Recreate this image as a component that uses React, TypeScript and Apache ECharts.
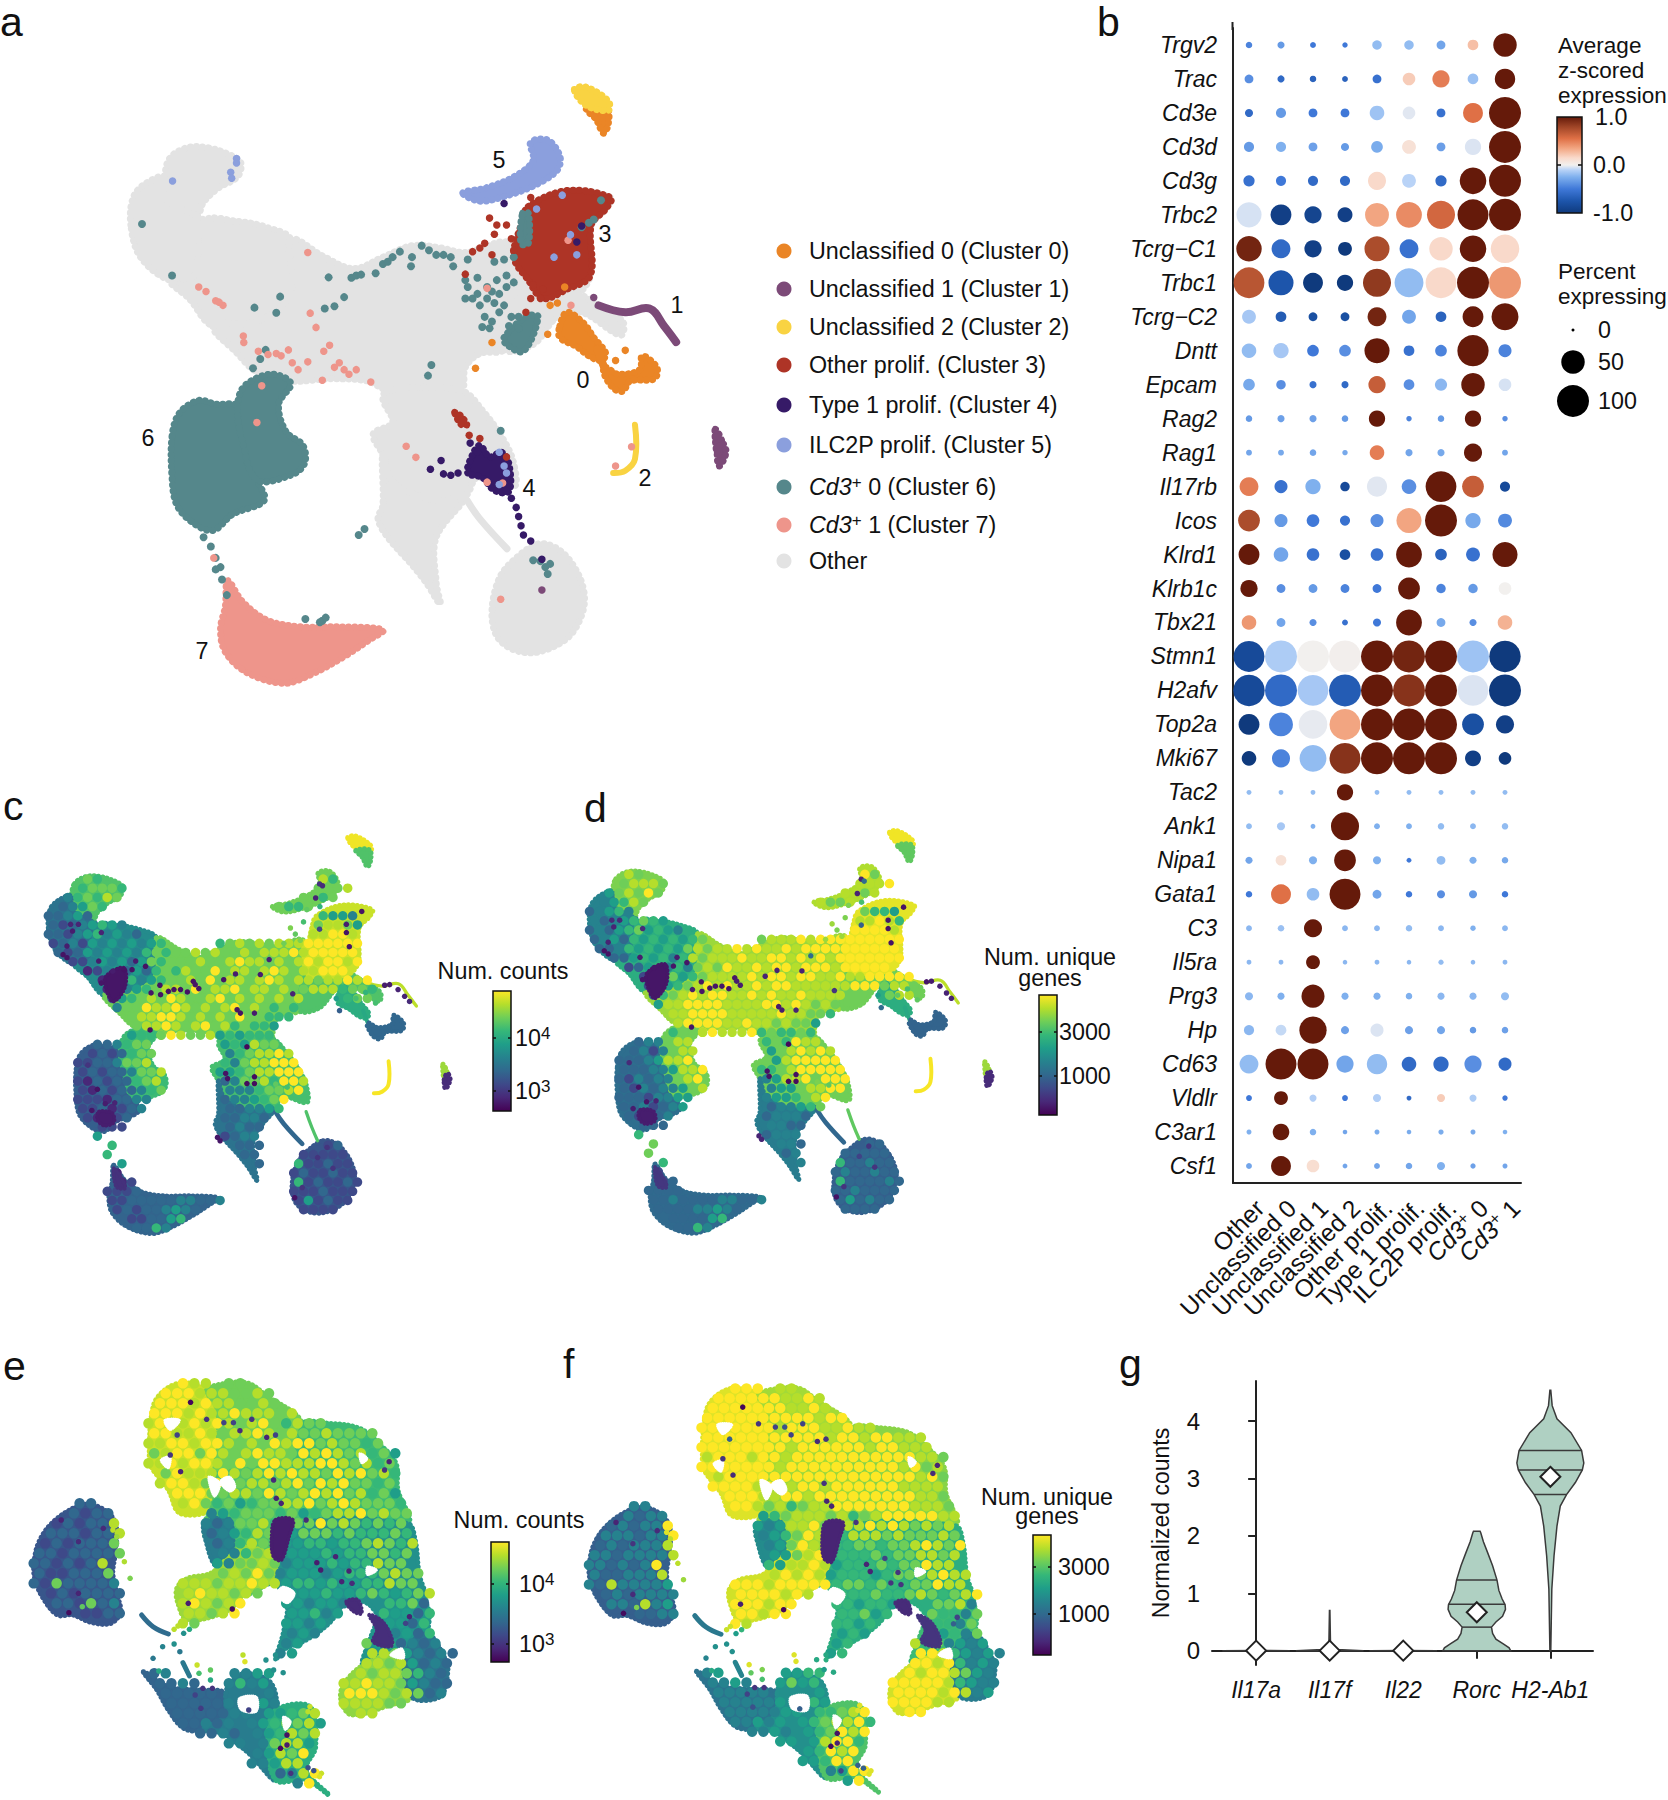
import React, { useEffect, useRef } from "react";
import * as echarts from "echarts";

const FONT = '"Liberation Sans", Arial, sans-serif';
const BLACK = "#111111";

// ---------- panel b data ----------
const genes = ["Trgv2","Trac","Cd3e","Cd3d","Cd3g","Trbc2","Tcrg\u2212C1","Trbc1","Tcrg\u2212C2","Dntt","Epcam","Rag2","Rag1","Il17rb","Icos","Klrd1","Klrb1c","Tbx21","Stmn1","H2afv","Top2a","Mki67","Tac2","Ank1","Nipa1","Gata1","C3","Il5ra","Prg3","Hp","Cd63","Vldlr","C3ar1","Csf1"];
const groups = ["Other","Unclassified 0","Unclassified 1","Unclassified 2","Other prolif.","Type 1 prolif.","ILC2P prolif.","Cd3+ 0","Cd3+ 1"];
const percentExpressing = [
[1.5,2,1,.7,5,5,4,7,50],[4,2,1.5,1,4,11,24,7,36],[3,6,4,4,16,11,4,34,100],[6,6,4,3,9,14,4,21,100],[8,6,6,6,27,14,8,66,100],
[58,38,24,17,52,62,75,93,100],[60,30,24,14,58,30,50,66,78],[92,58,34,21,75,80,92,100,100],[14,7,4,4,30,14,7,38,68],[16,18,9,9,58,7,9,95,12],
[9,5,2,2,24,7,10,50,11],[1.5,2,2,1.5,21,.7,1.5,21,.7],[1,1,1.5,.7,16,2,2,27,1],[30,12,18,5,35,16,92,42,6],[42,12,11,6,12,58,100,18,14],
[38,16,11,7,11,62,9,14,58],[24,4,4,4,4,42,5,5,11],[16,4,2,1,3,62,4,2,16],[93,100,100,100,100,100,100,100,96],[96,100,92,100,100,100,100,92,100],
[38,52,78,93,100,100,100,42,27],[16,27,68,93,100,100,100,20,11],[.4,.4,.4,21,.4,.4,.4,.4,.4],[1,3,.4,75,1,1,1.5,1,1.5],[2,7,3,42,3,.4,4,2,1.5],
[1.5,34,11,93,4,1.5,3,3,1.5],[1,1.5,27,1,1,1.5,1,.7,1],[.4,.4,14,.3,.4,.3,.6,.3,.4],[3,2,48,2,2,1.5,2,2,3],[6,7,70,3,12,3,3,1.5,1.5],
[30,93,93,24,36,16,18,24,12],[1,14,2,1,3,.4,3,2,.7],[.5,22,1.5,.3,.5,.3,.6,.5,.3],[1,34,11,.4,1,1.5,3,.6,.5]];
const zScores = [
[-.45,-.35,-.5,-.5,-.2,-.2,-.3,.25,1],[-.4,-.6,-.65,-.65,-.55,.2,.5,-.18,1],[-.6,-.35,-.5,-.5,-.17,-.03,-.55,.55,1],[-.35,-.25,-.32,-.35,-.27,.1,-.33,-.04,1],[-.55,-.5,-.6,-.6,.15,-.1,-.6,1,1],
[-.05,-.95,-.9,-.95,.35,.45,.6,1,1],[.95,-.6,-.95,-1,.75,-.55,.15,1,.15],[.7,-.75,-1,-1,.85,-.2,.15,1,.4],[-.15,-.7,-.8,-.8,.95,-.3,-.65,1,1],[-.2,-.15,-.5,-.4,1,-.55,-.45,1,-.45],
[-.28,-.4,-.55,-.6,.65,-.4,-.22,1,-.05],[-.35,-.32,-.32,-.35,1,-.45,-.35,1,-.4],[-.3,-.28,-.3,-.28,.5,-.3,-.28,1,-.3],[.5,-.55,-.25,-.85,-.03,-.4,1,.65,-.85],[.75,-.35,-.5,-.55,-.4,.35,1,-.28,-.42],
[1,-.3,-.55,-.8,-.55,1,-.65,-.55,1],[1,-.4,-.35,-.45,-.5,1,-.45,-.35,0],[.4,-.3,-.4,-.55,-.5,1,-.28,-.4,.3],[-.85,-.13,0,.01,1,.95,1,-.17,-1],[-.85,-.6,-.15,-.7,1,.88,1,-.04,-1],
[-1,-.45,-.02,.35,1,1,1,-.8,-.95],[-1,-.45,-.2,.88,1,1,1,-.95,-1],[-.2,-.2,-.2,1,-.2,-.2,-.2,-.2,-.2],[-.2,-.15,-.25,1,-.25,-.25,-.2,-.22,-.2],[-.3,.1,-.25,1,-.25,-.5,-.2,-.25,-.28],
[-.5,.55,-.2,1,-.3,-.5,-.4,-.35,-.5],[-.22,-.18,1,-.22,-.22,-.2,-.22,-.25,-.22],[-.22,-.22,1,-.22,-.22,-.22,-.2,-.22,-.22],[-.22,-.25,1,-.25,-.25,-.25,-.22,-.22,-.2],[-.22,-.08,1,-.32,-.04,-.32,-.3,-.35,-.32],
[-.2,1,1,-.3,-.2,-.6,-.6,-.4,-.6],[-.5,1,-.12,-.5,-.12,-.6,.2,-.13,-.5],[-.25,1,-.25,-.3,-.27,-.27,-.27,-.28,-.25],[-.3,1,.12,-.3,-.3,-.3,-.25,-.32,-.3]];
const zStops: [number,string][] = [[-1,"#0f3a7d"],[-.75,"#1d55ab"],[-.5,"#3f78d8"],[-.25,"#7fb0ee"],[-.1,"#b9d3f7"],[0,"#f2f0ee"],[.15,"#f9d9ca"],[.35,"#f2a581"],[.55,"#df7046"],[.8,"#9e4426"],[1,"#651a0a"]];
const sizeLegend = [0,50,100];

// ---------- panel g data ----------
const violinGenes = ["Il17a","Il17f","Il22","Rorc","H2-Ab1"];
const violinMeans = [0,0,0,.67,3.03];
const violinProfiles = [
[[0,.46],[.002,.006]],
[[0,.46],[.02,.1],[.05,.012],[.7,.003]],
[[0,.46],[.002,.006]],
[[0,.46],[.05,.44],[.12,.36],[.2,.26],[.3,.215],[.41,.2],[.5,.26],[.6,.35],[.72,.39],[.8,.385],[.9,.345],[1.05,.3],[1.23,.275],[1.48,.215],[1.7,.15],[1.9,.09],[2.05,.055],[2.08,.045]],
[[0,.006],[1.07,.02],[1.65,.05],[2.17,.09],[2.52,.135],[2.72,.22],[2.93,.34],[3.15,.435],[3.27,.455],[3.49,.425],[3.8,.28],[4.04,.09],[4.27,.025],[4.54,.006]]];
const violinQuartiles = [[],[],[],[[.41,.2],[.81,.385],[1.23,.275]],[[2.72,.22],[3.15,.435],[3.49,.425]]];

// ---------- legend of panel a ----------
const clusterLabels = ["Unclassified 0 (Cluster 0)","Unclassified 1 (Cluster 1)","Unclassified 2 (Cluster 2)","Other prolif. (Cluster 3)","Type 1 prolif. (Cluster 4)","ILC2P prolif. (Cluster 5)","{i|Cd3}{s|+} 0 (Cluster 6)","{i|Cd3}{s|+} 1 (Cluster 7)","Other"];
const clusterColors = ["#EA8526","#7C4A78","#F9D342","#AE3426","#361A67","#8B9FDD","#55878B","#EE958B","#E3E3E3"];

// ---------- embedding of panels a, c, d: outlines ----------
const tailTop = [[350,345],[385,322],[430,322],[480,340],[497,355],[490,385],[450,410],[420,440],[405,470],[340,430],[340,385]];
const head = [[270,490],[275,430],[300,400],[340,385],[340,430],[405,470],[420,482],[400,600],[350,610],[290,560]];
const midLeft = [[420,482],[490,482],[550,495],[600,522],[600,640],[530,700],[440,710],[390,650],[350,610],[400,600]];
const centre = [[600,522],[670,560],[730,585],[790,560],[850,535],[910,540],[960,550],[1050,530],[1060,640],[1040,760],[990,770],[960,800],[950,850],[800,850],[760,830],[680,825],[600,830],[530,810],[490,770],[440,710],[530,700],[600,640]];
const upperRight = [[1060,560],[1075,490],[1090,450],[1170,415],[1260,430],[1250,455],[1220,490],[1218,600],[1190,640],[1120,650],[1060,640],[1050,530]];
const rightBranch = [[1060,640],[1120,650],[1190,640],[1240,670],[1285,700],[1280,730],[1200,680],[1150,690],[1100,750],[1040,760]];
const lowerArm = [[800,850],[950,850],[1000,900],[1040,960],[1060,1010],[1060,1060],[985,1040],[960,1080],[900,1090],[810,1050],[790,990],[770,945],[810,920],[790,870]];
const lowerLobe = [[790,990],[810,1050],[900,1090],[960,1080],[900,1170],[900,1270],[908,1315],[880,1270],[850,1230],[800,1170],[780,1130],[790,1100]];
const circleBlob = [[1110,1185],[1150,1195],[1185,1235],[1205,1290],[1200,1340],[1170,1390],[1110,1420],[1060,1415],[1025,1385],[1015,1330],[1030,1260],[1060,1220]];
const strandThin = [[964,1090],[990,1130],[1046,1195]];
const strandGreen = [[1058,1090],[1075,1140],[1093,1185]];
const cluster6Left = [[355,950],[370,900],[410,872],[445,880],[490,885],[500,960],[530,1045],[545,1090],[480,1120],[440,1155],[400,1140],[365,1100],[355,1040]];
const cluster6Right = [[490,885],[505,840],[560,815],[600,835],[575,880],[590,940],[625,970],[628,1010],[600,1035],[530,1045],[500,960]];
const cluster7 = [[470,1265],[500,1310],[550,1350],[620,1365],[700,1365],[790,1372],[760,1395],[710,1430],[640,1470],[585,1488],[510,1465],[465,1420],[455,1370],[465,1320]];
const cluster3 = [[1090,450],[1170,415],[1260,430],[1250,455],[1220,490],[1218,600],[1170,630],[1120,650],[1090,610],[1060,560],[1075,490]];
const cluster5 = [[955,420],[1000,410],[1060,385],[1100,350],[1095,310],[1130,305],[1155,340],[1150,370],[1110,400],[1050,425],[990,438]];
const cluster0Upper = [[1155,710],[1170,680],[1205,705],[1225,735],[1250,770],[1240,785],[1215,775],[1190,755],[1155,735]];
const cluster0Foot = [[1250,800],[1275,815],[1320,805],[1325,775],[1355,800],[1350,825],[1300,830],[1285,852],[1265,845],[1245,810]];
const cluster0Bridge = [[1232,760],[1250,810]];
const cluster1Line = [[1235,665],[1290,680],[1340,672],[1370,710],[1395,745]];
const topYellow = [[1185,195],[1210,190],[1255,220],[1255,240],[1210,230]];
const topOrange = [[1210,237],[1252,235],[1255,270],[1245,290],[1230,260]];
const cluster2Line = [[1310,925],[1310,1000],[1290,1025],[1265,1030]];
const islandTop = [[1476,935],[1490,965],[1480,985],[1476,960]];
const islandBottom = [[1480,985],[1490,965],[1498,985],[1484,1015]];
const cluster4 = [[965,1030],[975,990],[990,970],[1010,995],[1035,985],[1050,1010],[1050,1070],[1020,1068],[995,1040]];
const tealFoot = [[1040,735],[1085,690],[1110,690],[1080,765],[1045,750]];
const tealStrip = [[1078,465],[1090,465],[1090,530],[1075,530]];
const redStrand = [[938,898],[950,905],[963,925],[952,925]];
const darkPatchC1 = [[445,650],[500,620],[505,680],[470,730],[450,700]];
const darkPatchC2 = [[425,1090],[465,1095],[470,1125],[440,1135],[420,1115]];
const foot7Tip = [[470,1275],[495,1310],[505,1340],[478,1335]];

// ---------- embedding of panels a, c, d: isolated cells of panel a ----------
const tealCells = [[725,605],[735,600],[745,598],[775,595],[790,575],[800,570],[810,560],[825,548],[850,560],[848,580],[870,535],[885,545],[900,555],[915,555],[930,560],[935,580],[965,565],[1020,570],[1040,565],[1060,560],[960,610],[965,625],[985,605],[1005,625],[1025,610],[1045,600],[1060,615],[1045,625],[975,650],[990,665],[1005,650],[1020,660],[1040,665],[1000,690],[1015,700],[1030,680],[1055,690],[1070,690],[1050,710],[1070,715],[995,712],[1010,715],[960,650],[1030,640],[1015,635],[985,640],[1200,495],[1215,485],[1225,478],[1240,436],[293,488],[355,600],[678,604],[578,646],[525,670],[570,681],[670,672],[690,667],[710,647],[890,795],[883,818],[1033,938],[522,802],[537,782],[548,762],[740,1165],[752,1152],[420,1170],[435,1190],[445,1215],[455,1235],[445,1240],[458,1262],[468,1296],[1100,1220],[1115,1222],[1135,1228],[1125,1235],[1130,1250],[630,1348],[665,1352],[672,1345],[660,1355]];
const redCells = [[1010,475],[1025,490],[1000,530],[990,540],[975,548],[1020,510],[1045,490],[1055,520],[1015,555],[1060,545],[1100,620],[1095,650],[1085,680],[1115,650],[1120,630],[968,948],[990,955],[1045,995],[960,597],[1095,430]];
const salmonCells = [[635,550],[410,625],[425,635],[445,655],[460,665],[452,658],[502,732],[503,746],[640,682],[652,713],[680,752],[668,765],[533,765],[553,772],[570,770],[580,775],[595,762],[603,790],[615,805],[635,788],[665,828],[690,800],[700,790],[710,805],[720,815],[735,805],[765,832],[540,840],[530,920],[838,972],[858,996],[441,1215],[1005,628],[1005,1050],[1037,1052],[1033,1305],[1172,523],[1178,665],[1270,1015],[1303,973]];
const blueCells = [[488,345],[488,355],[476,375],[478,388],[356,394],[1177,511],[1190,555],[1143,560],[1107,455],[1160,425],[1030,985],[1040,1015],[1045,1030],[1030,1055]];
const orangeCells = [[1135,665],[1150,660],[1165,625],[1130,728],[1015,746],[981,802],[1290,763],[1270,785]];
const purpleCells = [[1045,1070],[1055,1085],[1065,1105],[1070,1125],[1075,1145],[1080,1165],[1095,1178],[888,1022],[910,1003],[915,1032],[930,1035],[945,1030],[970,965],[985,985],[1190,527],[1200,492],[1040,443],[1118,1218]];
const plumCells = [[1118,1285],[1225,648]];

// Colour-bar level (digit 0-9) read along rows of the embedding: [row y, first column, digits]
const rasterCountsA: [number,number,string][] = [
[330,4,"76"],[360,3,"67776"],[390,2,"467687"],[420,1,"34576"],[450,0,"33453"],[450,28,"6554"],[480,0,"32345654"],[480,27,"78875"],[510,0,"3324564543"],[510,27,"88998"],
[540,0,"234254545456"],[540,17,"678787888999999"],[570,1,"3235454546767787877878889899999"],[600,2,"224545357677787789887878989989"],[630,4,"124535367687797887898788999"],[660,5,"1246456778797887898788788989"],[690,6,"1245678879788978878778886"],[690,31,"776"],
[720,6,"25678798778978787878"],[720,30,"677"],[750,7,"4779889878789787676"],[780,8,"78899878787977666"],[810,9,"788987897867665"],[840,11,"898778565666"],[870,18,"565877"],[900,18,"4678898"],[930,18,"64788999"],[960,17,"556788999"],[990,18,"347786998"],[1020,18,"44467789"],[1050,18,"3445679"],[1080,18,"334456"],[1110,18,"33443"],[1140,18,"3433"],[1170,18,"2344"],[1200,19,"333"],[1230,20,"33"],[1260,21,"3"],
[840,8,"5667"],[870,5,"334677"],[900,4,"2323677"],[930,3,"22334778"],[960,3,"232334778"],[990,3,"213233678"],[1020,3,"213233467"],[1050,3,"22213344"],[1080,3,"2231234"],[1110,4,"21123"],[1140,5,"222"],
[1170,5,"5"],[1200,6,"6"],[1230,6,"6"],[1260,7,"5"],[1290,7,"1"],[1320,7,"12"],[1350,6,"2223"],[1380,6,"223333344334"],[1410,7,"232334543"],[1440,8,"223356"],[1470,9,"3364"],
[1200,28,"23"],[1230,26,"22222"],[1260,25,"622322"],[1290,25,"2322322"],[1320,25,"6232232"],[1350,25,"2223222"],[1380,25,"252322"],[1410,26,"2222"],
[330,28,"86"],[360,27,"7778"],[390,26,"7767"],[420,23,"7667"]];
const rasterGenesA: [number,number,string][] = [
[330,4,"87"],[360,3,"78887"],[390,2,"578797"],[420,1,"45687"],[450,0,"34564"],[450,28,"7665"],[480,0,"43456765"],[480,27,"88986"],[510,0,"3435675654"],[510,27,"99998"],
[540,0,"345365656567"],[540,17,"788898999999999"],[570,1,"3346565657878898988989999999999"],[600,2,"335656468788898899898989999999"],[630,4,"235646478798898998999899999"],[660,5,"2357567888898998998898899999"],[690,6,"2356789898898998888889997"],[690,31,"887"],
[720,6,"36789899889898898888"],[720,30,"788"],[750,7,"5889999888899898787"],[780,8,"88999988888988776"],[810,9,"899998898878775"],[840,11,"998889676676"],[870,18,"676988"],[900,18,"5789898"],[930,18,"75899999"],[960,17,"667899999"],[990,18,"458897999"],[1020,18,"45578899"],[1050,18,"4556789"],[1080,18,"344567"],[1110,18,"34443"],[1140,18,"4433"],[1170,18,"3444"],[1200,19,"443"],[1230,20,"34"],[1260,21,"4"],
[840,8,"6778"],[870,5,"344788"],[900,4,"3424788"],[930,3,"33345889"],[960,3,"333445889"],[990,3,"324344789"],[1020,3,"324344578"],[1050,3,"33324455"],[1080,3,"3342345"],[1110,4,"32234"],[1140,5,"333"],
[1170,5,"6"],[1200,6,"7"],[1230,6,"7"],[1260,7,"6"],[1290,7,"2"],[1320,7,"23"],[1350,6,"3333"],[1380,6,"334333344334"],[1410,7,"333344543"],[1440,8,"333356"],[1470,9,"3364"],
[1200,28,"33"],[1230,26,"33333"],[1260,25,"633433"],[1290,25,"3433433"],[1320,25,"6333343"],[1350,25,"3343333"],[1380,25,"353433"],[1410,26,"3333"],
[330,28,"97"],[360,27,"8889"],[390,26,"8878"],[420,23,"8778"]];

// x, y, num. counts (0-1 on the colour bar), num. genes (0-1): single cells that stand out
const outliersA = [
[315,577,.05,.05],[327,587,.05,.05],[338,478,.1,.12],[362,478,.1,.12],[344,500,.08,.1],[327,549,.08,.1],[432,505,.1,.12],[424,598,.08,.08],[467,631,.08,.06],[432,670,.06,.06],[502,626,.05,.06],[526,626,.05,.06],[567,615,.05,.06],[537,598,.08,.08],
[584,702,.06,.08],[611,677,.05,.06],[613,708,.05,.06],[637,697,.05,.06],[654,691,.05,.06],[674,691,.05,.06],[695,699,.05,.06],[713,664,.05,.06],[730,688,.06,.08],[719,675,.06,.08],[842,640,.08,.1],[918,642,.08,.1],[945,593,.1,.35],[806,659,.06,.1],[1017,705,.1,.15],[847,757,.06,.08],[857,768,.05,.08],[900,768,.08,.1],[581,823,.05,.06],[877,878,.02,.02],[812,965,.05,.05],[818,982,.05,.05],[877,998,.03,.03],[900,976,.03,.04],[900,998,.03,.03],
[1181,478,.08,.06],[1181,505,.05,.05],[1190,551,.06,.05],[1099,494,.2,.3],[1228,436,.05,.05],[1087,392,.1,.1],[1099,346,.15,.1],[1108,352,.12,.35],[1298,677,.08,.06],[1313,675,.08,.08],[1339,691,.1,.1],[1359,713,.1,.1],[1374,730,.12,.1],[391,938,.15,.12],[420,1017,.05,.05],[403,1086,.06,.08],[444,1064,.08,.06],[473,1061,.1,.1],[787,1174,.06,.1],[795,1185,.06,.1],[1023,1371,.05,.05],[1046,1338,.15,.15],[1093,1240,.15,.2],[1122,1207,.15,.15],[1140,1275,.15,.15],
[1010,490,.8,.85],[1025,510,.75,.8],[1050,470,.7,.8],[1060,430,.75,.8],[1100,420,.65,.7],[1040,530,.8,.85],[990,540,.78,.85],[1210,720,.7,.75],[1240,700,.65,.7],[1150,720,.55,.55],[1270,735,.7,.75],[1160,760,.3,.35],[965,1000,.75,.8],[1000,1010,.7,.75]];

// ---------- embedding of panels e, f: outlines ----------
const blobLeft = [[88,680],[100,610],[135,550],[190,505],[235,493],[285,520],[305,565],[300,650],[295,700],[305,760],[315,815],[290,850],[240,848],[190,825],[150,825],[110,770],[92,720]];
const topLeftB = [[390,360],[400,200],[430,150],[480,128],[540,150],[565,200],[570,320],[570,440],[550,510],[470,520],[440,450],[400,390]];
const topMidB = [[540,150],[590,130],[650,130],[700,170],[770,220],[790,255],[790,400],[570,400],[570,320],[565,200]];
const upperRightB = [[790,255],[860,250],[940,265],[990,310],[1035,370],[1040,450],[1065,550],[790,550]];
const centreB = [[570,400],[790,400],[790,550],[740,700],[700,730],[640,760],[590,640],[540,600],[535,550],[550,510],[570,440]];
const stripB = [[535,550],[600,540],[600,680],[565,680],[540,610]];
const lobeB = [[462,745],[490,715],[550,700],[590,660],[640,620],[720,660],[700,730],[640,760],[600,810],[490,840],[465,790]];
const midLowerB = [[790,550],[1065,550],[1085,600],[1095,700],[1110,790],[1000,830],[960,790],[910,780],[860,850],[800,900],[740,930],[720,960],[740,880],[750,790],[720,730],[700,730],[720,660]];
const armB = [[1000,830],[1110,790],[1115,880],[1060,940],[950,975],[960,920]];
const bottomYellowB = [[893,1090],[895,1040],[950,975],[1060,940],[1075,1070],[1020,1095],[920,1125]];
const bottomDarkB = [[1060,940],[1115,880],[1165,960],[1170,1000],[1150,1070],[1075,1070]];
const lowDarkB = [[375,995],[440,1040],[520,1050],[590,1060],[585,1130],[530,1170],[480,1165],[440,1110],[410,1050]];
const lowMidB = [[590,1060],[600,1030],[640,1000],[700,1020],[720,1060],[720,1110],[700,1180],[720,1320],[650,1240],[580,1180],[530,1170],[585,1130]];
const lowRightB = [[720,1110],[810,1100],[825,1220],[800,1290],[860,1365],[800,1320],[720,1320],[700,1180]];
const strandB1 = [[370,825],[400,860],[440,882]];
const strandB2 = [[478,968],[495,1008]];
const darkB1 = [[720,540],[765,540],[755,590],[735,660],[715,650],[710,590]];
const darkB2 = [[905,785],[935,780],[945,820],[925,815]];
const darkB3 = [[965,825],[1000,845],[1025,900],[1020,920],[975,905],[985,870]];
const holesB = [[[600,410],[615,440],[600,455],[575,425]],[[430,240],[470,240],[445,270]],[[420,360],[445,350],[440,385]],[[740,740],[770,760],[750,790],[725,760]],[[1020,945],[1050,925],[1055,955]],[[960,680],[985,690],[960,705]],[[625,1075],[670,1070],[670,1115],[630,1110]],[[545,410],[575,430],[560,470]],[[940,340],[960,355],[945,370]],[[740,1130],[760,1145],[745,1170]]];

const rasterCountsB: [number,number,string][] = [
[130,13,"988"],[130,17,"77"],[160,11,"9998887787"],[190,11,"99989887787"],[220,10,"9998988988878"],[250,10,"8998989878976877"],[280,10,"99889878898787787777"],[310,10,"889989987879899787767"],[340,10,"7899798789887989878675"],[370,10,"8898998797998889987867"],[400,11,"798889878989887989786"],[430,11,"899879878878979897767"],[460,12,"99977887987898978675"],[490,13,"89767567788978987776"],[520,15,"456777675678897877"],
[550,15,"434778657797876767"],[580,15,"345687657776766676"],[610,16,"346877556656678768"],[640,16,"44678755565667767"],[670,16,"54778745556566877"],[700,16,"787974555456667877"],[730,13,"888788988566565566877"],[760,13,"8988787"],[760,22,"5556556765678"],[790,13,"898789"],[790,22,"5545545"],[790,31,"6673"],[820,13,"88789"],[820,22,"55645"],[820,30,"65536"],[850,13,"87"],[850,22,"5545"],[850,31,"5536"],[880,22,"454"],[880,31,"4536"],[910,22,"45"],[910,29,"7563434"],[940,21,"45"],[940,29,"88754343"],
[970,29,"88785343"],[1000,10,"34"],[1000,17,"4455"],[1000,28,"87887643"],[1030,11,"3343"],[1030,17,"4645"],[1030,27,"8898875433"],[1060,11,"33333"],[1060,20,"4"],[1060,27,"999878734"],[1090,12,"333334"],[1090,19,"454"],[1090,27,"888877"],[1120,12,"3333344"],[1120,20,"55678"],[1120,28,"88"],[1150,13,"33434"],[1150,19,"4567785"],[1180,14,"3343"],[1180,19,"456878"],[1210,17,"44"],[1210,20,"47885"],[1240,19,"45879"],[1270,19,"44588"],[1300,21,"3489"],[1330,23,"49"],
[490,4,"33"],[520,3,"3233"],[550,2,"232338"],[580,1,"3332338"],[610,1,"2323337"],[640,0,"33233337"],[670,0,"3323238"],[700,0,"3223337"],[730,0,"32733334"],[760,1,"2323333"],[790,2,"332734"],[820,4,"2233"]];
const rasterGenesB: [number,number,string][] = [
[130,13,"999"],[130,17,"88"],[160,11,"9999998898"],[190,11,"99999998898"],[220,10,"9999999999899"],[250,10,"9999999899988988"],[280,10,"99999999999899899888"],[310,10,"999999998999999899888"],[340,10,"8999899899999999999887"],[370,10,"9999999899999999998978"],[400,11,"899999999999999999897"],[430,11,"999989989989999998888"],[460,12,"99988998999999999887"],[490,13,"99878678899999998887"],[520,15,"567888786789999988"],
[550,15,"545889768898987878"],[580,15,"456798768887877787"],[610,16,"457988667767789879"],[640,16,"55789866676778878"],[670,16,"65889856667677988"],[700,16,"898985666567778988"],[730,13,"999899999677676677988"],[760,13,"9999898"],[760,22,"6667667876789"],[790,13,"999899"],[790,22,"6656656"],[790,31,"7784"],[820,13,"99899"],[820,22,"66756"],[820,30,"76647"],[850,13,"98"],[850,22,"6656"],[850,31,"6647"],[880,22,"565"],[880,31,"5647"],[910,22,"56"],[910,29,"8674545"],[940,21,"56"],[940,29,"99865454"],
[970,29,"99896454"],[1000,10,"45"],[1000,17,"5566"],[1000,28,"98998754"],[1030,11,"4454"],[1030,17,"5756"],[1030,27,"9999986544"],[1060,11,"44444"],[1060,20,"5"],[1060,27,"999989845"],[1090,12,"444445"],[1090,19,"565"],[1090,27,"999988"],[1120,12,"4444455"],[1120,20,"66789"],[1120,28,"99"],[1150,13,"44545"],[1150,19,"5678896"],[1180,14,"4454"],[1180,19,"567989"],[1210,17,"55"],[1210,20,"58996"],[1240,19,"56989"],[1270,19,"55699"],[1300,21,"4599"],[1330,23,"59"],
[490,4,"44"],[520,3,"4344"],[550,2,"343449"],[580,1,"4443449"],[610,1,"3434448"],[640,0,"44344448"],[670,0,"4434349"],[700,0,"4334448"],[730,0,"43844445"],[760,1,"3434444"],[790,2,"443845"],[820,4,"3344"]];

// x, y, num. counts (0-1), num. genes (0-1): single cells that stand out
const outliersB = [
[498,187,.02,.02],[540,238,.15,.15],[627,272,.12,.2],[697,292,.1,.12],[720,285,.2,.15],[463,285,.2,.3],[445,345,.15,.15],[472,395,.1,.12],[658,238,.15,.2],[585,248,.2,.2],[610,248,.2,.25],[715,420,.12,.15],[722,475,.1,.1],[735,490,.1,.1],[800,540,.12,.15],[1017,365,.1,.1],[1005,390,.15,.12],[838,690,.08,.1],[828,668,.08,.1],[877,650,.1,.2],[912,693,.1,.15],[893,725,.1,.15],[920,730,.12,.15],[492,790,.08,.08],[607,807,.03,.02],[205,760,.1,.12],[160,540,.1,.1],[180,818,.03,.03],[270,565,.12,.12],[205,605,.12,.15],
[295,570,.9,.95],[305,590,.85,.9],[325,665,.88,.9],[340,715,.8,.85],[215,800,.75,.8],
[455,868,.9,.92],[465,858,.9,.92],[480,880,.5,.55],[495,868,.6,.65],[400,955,.4,.45],[425,920,.45,.5],[455,912,.5,.5],[470,935,.4,.5],[515,975,.92,.95],[520,1000,.7,.75],[550,990,.75,.8],[550,1020,.6,.7],[635,945,.9,.95],[640,965,.95,.95],[695,960,.5,.6],[720,945,.5,.6],[715,990,.5,.55],[740,998,.5,.6],[415,993,.6,.6],[810,1100,.92,.95],[805,1115,.9,.95],[840,1300,.92,.95],[835,1310,.95,.95],[805,1283,.25,.3],[820,1292,.25,.3],
[530,1045,.15,.15],[555,1045,.15,.15],[510,1065,.2,.2],[525,1105,.18,.25],[650,1110,.2,.3],[750,1185,.05,.05],[733,1225,.03,.03],[750,1215,.08,.1],[760,1300,.15,.2],[1070,830,.1,.2],[1060,850,.2,.3]];

// ---------- panel tick labels ----------
const countTicks = ["10{s|4}", "10{s|3}"];
const genesTicks = ["3000", "1000"];
const viridis = ["#440154","#482878","#3e4989","#31688e","#26828e","#1f9e89","#35b779","#6ece58","#b5de2b","#fde725"];

function hexRgb(h: string) { return [1,3,5].map((i) => parseInt(h.slice(i,i+2),16)); }
function mix(a: string, b: string, t: number) {
  const A = hexRgb(a), B = hexRgb(b);
  return "rgb(" + A.map((v,i) => Math.round(v + (B[i]-v)*t)).join(",") + ")";
}
function viridisColor(v: number) {
  const p = Math.min(.9999, v) * (viridis.length-1), i = Math.floor(p);
  return mix(viridis[i], viridis[i+1], p-i);
}
function zColor(z: number) {
  for (let i = 0; i < zStops.length-1; i++) {
    if (z <= zStops[i+1][0]) return mix(zStops[i][1], zStops[i+1][1], (z-zStops[i][0])/(zStops[i+1][0]-zStops[i][0]));
  }
  return zStops[zStops.length-1][1];
}
const dotDiameter = (pct: number) => 3 + 29*Math.sqrt(pct/100);

// one cell per digit; alternate rows sit half a column across
function rasterCells(rows: [number,number,string][], x0: number, y0: number) {
  const out: number[][] = [];
  rows.forEach(([y, col, digits]) => {
    const shift = Math.round((y-y0)/30) % 2 ? 15 : 0;
    digits.split("").forEach((d, k) => out.push([x0 + 30*(col+k) + shift, y, Number(d)/9]));
  });
  return out;
}

type Region = { pts: number[][]; fill: string; line?: number };
function regionSeries(regions: Region[], axis: number, bump: number, lineScale: number, z = 2) {
  return {
    type: "custom", coordinateSystem: "cartesian2d", xAxisIndex: axis, yAxisIndex: axis, silent: true, clip: false, z,
    data: regions.map((r) => r.pts[0]), encode: { x: 0, y: 1 },
    renderItem: (p: any, api: any) => {
      const r = regions[p.dataIndex];
      const points = r.pts.map((q) => api.coord(q));
      if (r.line) return { type: "polyline", shape: { points, smooth: .4 }, style: { fill: null, stroke: r.fill, lineWidth: r.line*lineScale, lineCap: "round", lineJoin: "round" } };
      return { type: "polygon", shape: { points, smooth: .35 }, style: { fill: r.fill, stroke: r.fill, lineWidth: bump, lineDash: [0.1, bump*.85], lineCap: "round", lineJoin: "round" } };
    },
  };
}
function dotSeries(name: string, data: number[][], axis: number, size: number, color: any, z = 3) {
  return { type: "scatter", name, xAxisIndex: axis, yAxisIndex: axis, data, symbolSize: size, silent: true, clip: false, z, itemStyle: { color, opacity: 1 } };
}
const hiddenAxes = (gridIndex: number, xMin: number, xMax: number, yMax: number) => ({
  x: { type: "value", gridIndex, min: xMin, max: xMax, show: false },
  y: { type: "value", gridIndex, min: 0, max: yMax, inverse: true, show: false },
});

function viridisBar(x: number, y: number, w: number, h: number, tickYs: number[], labels: string[], labelX: number) {
  const colorStops = viridis.map((c,i) => ({ offset: 1 - i/(viridis.length-1), color: c })).reverse();
  const els: any[] = [{ type: "rect", shape: { x, y, width: w, height: h }, style: { fill: { type: "linear", x: 0, y: 0, x2: 0, y2: 1, colorStops }, stroke: BLACK, lineWidth: 1.5 } }];
  tickYs.forEach((t,i) => {
    els.push({ type: "line", shape: { x1: x, y1: t, x2: x+3, y2: t }, style: { stroke: BLACK, lineWidth: 1.5 } });
    els.push({ type: "line", shape: { x1: x+w-3, y1: t, x2: x+w, y2: t }, style: { stroke: BLACK, lineWidth: 1.5 } });
    els.push(txt(labels[i], labelX, t, "left", 23.3));
  });
  return els;
}
const richText = { i: { fontStyle: "italic", fontFamily: FONT, fontSize: 23.3, color: BLACK, fill: BLACK }, s: { fontFamily: FONT, fontSize: 17, padding: [0,0,9,0], color: BLACK, fill: BLACK } };
function txt(text: string, x: number, y: number, align = "left", size = 23.3) {
  return { type: "text", x, y, silent: true, style: { text, fill: BLACK, font: `${size}px ${FONT}`, align, verticalAlign: "middle", lineHeight: Math.round(size*.85), rich: richText } };
}

export default function App() {
  const ref = useRef<HTMLDivElement>(null);
  useEffect(() => {
    const chart = echarts.init(ref.current!, undefined, { renderer: "svg" });
    const C = clusterColors;
    const gray = C[8];
    const regionsA: Region[] = [tailTop,head,midLeft,centre,upperRight,rightBranch,lowerArm,lowerLobe,circleBlob].map((pts) => ({ pts, fill: gray }));
    regionsA.push({ pts: strandThin, fill: gray, line: 7 });
    const clustersA: Region[] = [
      { pts: cluster6Left, fill: C[6] },{ pts: cluster6Right, fill: C[6] },{ pts: cluster7, fill: C[7] },{ pts: cluster3, fill: C[3] },{ pts: cluster5, fill: C[5] },
      { pts: cluster0Upper, fill: C[0] },{ pts: cluster0Foot, fill: C[0] },{ pts: cluster0Bridge, fill: C[0], line: 8 },{ pts: cluster1Line, fill: C[1], line: 8 },{ pts: topOrange, fill: C[0] },{ pts: topYellow, fill: C[2] },
      { pts: cluster2Line, fill: C[2], line: 6 },{ pts: islandTop, fill: C[1] },{ pts: islandBottom, fill: C[1] },{ pts: cluster4, fill: C[4] },{ pts: tealFoot, fill: C[6] },{ pts: tealStrip, fill: C[6] },{ pts: redStrand, fill: C[3] },
    ];
    const tableA: [number[][], number, number, number?][] = [
      [tailTop,.72,.8],[head,.38,.45],[midLeft,.48,.62],[centre,.78,.85],[rightBranch,.72,.78],[upperRight,.92,.96],[lowerArm,.7,.78],[lowerLobe,.38,.42],[circleBlob,.27,.3],
      [strandThin,.33,.33,7],[strandGreen,.72,.75,5],[cluster6Left,.3,.36],[cluster6Right,.68,.78],[cluster7,.32,.34],[cluster5,.78,.88],
      [cluster0Upper,.62,.62],[cluster0Bridge,.6,.6,6],[cluster0Foot,.33,.32],[cluster1Line,.9,.9,5],[topYellow,.98,.98],[topOrange,.72,.75],[cluster2Line,.99,.99,6],[islandTop,.85,.85],[islandBottom,.12,.12],
    ];
    const darkA: [number[][], number, number][] = [[darkPatchC1,.06,.06],[darkPatchC2,.08,.08],[foot7Tip,.14,.16]];
    const tableB: [number[][], number, number, number?][] = [
      [blobLeft,.27,.3],[topLeftB,.92,.95],[topMidB,.78,.86],[upperRightB,.68,.82],[centreB,.72,.85],[midLowerB,.5,.62],[stripB,.42,.48],[lobeB,.85,.93],[armB,.52,.68],[bottomYellowB,.83,.93],[bottomDarkB,.38,.42],
      [lowDarkB,.32,.38],[lowMidB,.42,.5],[lowRightB,.62,.72],[strandB1,.35,.4,5],[strandB2,.4,.45,5],
    ];
    const darkB: [number[][], number, number][] = [[darkB1,.08,.1],[darkB2,.12,.12],[darkB3,.13,.15]];
    const regs = (t: any[], k: 1|2): Region[] => t.map((r) => ({ pts: r[0], fill: viridisColor(r[k]), line: r[3] }));
    const holes: Region[] = holesB.map((pts) => ({ pts, fill: "#ffffff" }));
    const cellSeries = (raster: [number,number,string][], x0: number, y0: number, axis: number, size: number) =>
      dotSeries("cells", rasterCells(raster, x0, y0), axis, size, (p: any) => viridisColor(p.data[2]), 3);
    const outlierSeries = (list: number[][], k: number, axis: number, size: number) =>
      dotSeries("outliers", list.map((m) => [m[0], m[1], m[k]]), axis, size, (p: any) => viridisColor(p.data[2]), 5);

    const axes = [hiddenAxes(0,0,1568,1568), hiddenAxes(1,122.3,1568,1568), hiddenAxes(2,0,1568,1568), hiddenAxes(3,0,1568,1380), hiddenAxes(4,0,1568,1380)];
    const dotData: number[][] = [];
    genes.forEach((_,r) => groups.forEach((_g,c) => dotData.push([c, r, percentExpressing[r][c], zScores[r][c]])));
    const violinItems = violinProfiles.map((_,i) => [i, 0]);

    const zGradient = zStops.map(([z,c]) => ({ offset: (1-z)/2, color: c })).reverse();
    const graphicEls: any[] = [
      txt("a",0,22,"left",41),txt("b",1097,22,"left",41),txt("c",3,806,"left",41),txt("d",584,808,"left",41),txt("e",3,1366,"left",41),txt("f",563,1364,"left",41),txt("g",1119,1364,"left",41),
      txt("5",499,160,"center"),txt("3",605,234,"center"),txt("1",677,305,"center"),txt("0",583,380,"center"),txt("6",148,438,"center"),txt("2",645,478,"center"),txt("4",529,488,"center"),txt("7",202,651,"center"),
      txt("Average",1558,45,"left",22.5),txt("z-scored",1558,70,"left",22.5),txt("expression",1558,95,"left",22.5),
      { type: "rect", shape: { x: 1557, y: 117, width: 25, height: 96 }, style: { fill: { type: "linear", x: 0, y: 0, x2: 0, y2: 1, colorStops: zGradient }, stroke: BLACK, lineWidth: 1.5 } },
      { type: "line", shape: { x1: 1557, y1: 165, x2: 1561, y2: 165 }, style: { stroke: BLACK, lineWidth: 1.5 } },
      { type: "line", shape: { x1: 1578, y1: 165, x2: 1582, y2: 165 }, style: { stroke: BLACK, lineWidth: 1.5 } },
      txt("1.0",1595,117),txt("0.0",1593,165),txt("-1.0",1593,213),
      txt("Percent",1558,271,"left",22.5),txt("expressing",1558,296,"left",22.5),
      { type: "line", shape: { x1: 1232.5, y1: 22, x2: 1232.5, y2: 30 }, style: { stroke: "#222", lineWidth: 2 } },
      txt("Num. counts",503,971,"center"),txt("Num. unique",1050,957,"center"),txt("genes",1050,978,"center"),
      txt("Num. counts",519,1520,"center"),txt("Num. unique",1047,1497,"center"),txt("genes",1047,1516,"center"),
      ...viridisBar(493,991,18,120,[1038,1091],countTicks,515),
      ...viridisBar(1039,995,18,120,[1032,1076],genesTicks,1059),
      ...viridisBar(491,1542,18,120,[1584,1644],countTicks,519),
      ...viridisBar(1033,1535,18,120,[1567,1614],genesTicks,1058),
    ];
    const legendYs = [251,289,327,365,405,445,487,525,561];
    clusterLabels.forEach((l,i) => {
      graphicEls.push({ type: "circle", shape: { cx: 784, cy: legendYs[i], r: 7.5 }, style: { fill: C[i] }, silent: true });
      graphicEls.push(txt(l,809,legendYs[i]));
    });
    const sizeYs = [330,362,401];
    sizeLegend.forEach((p,i) => {
      graphicEls.push({ type: "circle", shape: { cx: 1573, cy: sizeYs[i], r: dotDiameter(p)/2 }, style: { fill: "#000" }, silent: true });
      graphicEls.push(txt(String(p),1598,sizeYs[i]));
    });

    chart.setOption({
      animation: false,
      backgroundColor: "#ffffff",
      textStyle: { fontFamily: FONT },
      grid: [
        { left: 0, top: 0, width: 760, height: 720 },
        { left: 0, top: 778, width: 473, height: 480 },
        { left: 501, top: 772, width: 514, height: 486 },
        { left: 0, top: 1340, width: 600, height: 460 },
        { left: 556, top: 1346, width: 588, height: 451 },
        { left: 1233, top: 28, width: 288, height: 1155 },
        { left: 1212, top: 1381, width: 381, height: 284 },
      ],
      xAxis: [
        ...axes.map((a) => a.x),
        { type: "category", gridIndex: 5, data: groups,
          axisLine: { lineStyle: { color: "#222", width: 2 } }, axisTick: { alignWithLabel: true, length: 8, lineStyle: { color: "#222", width: 2 } },
          axisLabel: { interval: 0, rotate: 45, margin: 32, padding: [0,-15.5,0,0], fontSize: 24.5, color: BLACK, fontFamily: FONT,
            formatter: (s: string) => s.replace("Cd3+", "{i|Cd3}{s|+}"), rich: { ...richText, i: { ...richText.i, fontSize: 24.5 } } } },
        { type: "value", gridIndex: 6, min: -.6, max: 4.58, splitLine: { show: false },
          axisLine: { lineStyle: { color: "#222", width: 2 } }, axisTick: { length: 8, customValues: [0,1,2,3,4], lineStyle: { color: "#222", width: 2 } },
          axisLabel: { customValues: [0,1,2,3,4], margin: 13, fontSize: 23, fontStyle: "italic", color: BLACK, fontFamily: FONT, formatter: (v: number) => violinGenes[v] } },
      ],
      yAxis: [
        ...axes.map((a) => a.y),
        { type: "category", gridIndex: 5, data: genes, inverse: true,
          axisLine: { lineStyle: { color: "#222", width: 2 } }, axisTick: { show: false },
          axisLabel: { interval: 0, margin: 16, fontSize: 23, fontStyle: "italic", color: BLACK, fontFamily: FONT } },
        { type: "value", gridIndex: 6, min: -.25, max: 4.7, splitLine: { show: false },
          name: "Normalized counts", nameLocation: "middle", nameGap: 40, nameTextStyle: { fontSize: 23, color: BLACK, fontFamily: FONT },
          axisLine: { show: true, lineStyle: { color: "#222", width: 2 } }, axisTick: { show: true, length: 8, customValues: [0,1,2,3,4], lineStyle: { color: "#222", width: 2 } },
          axisLabel: { customValues: [0,1,2,3,4], margin: 12, fontSize: 24, color: BLACK, fontFamily: FONT } },
      ],
      series: [
        regionSeries(regionsA, 0, 7, 1),
        regionSeries(clustersA, 0, 7, 1),
        dotSeries("Cd3+ 0", tealCells, 0, 8, C[6]),
        dotSeries("Other prolif.", redCells, 0, 7.5, C[3]),
        dotSeries("Cd3+ 1", salmonCells, 0, 7.5, C[7]),
        dotSeries("ILC2P prolif.", blueCells, 0, 7.5, C[5]),
        dotSeries("Unclassified 0", orangeCells, 0, 7.5, C[0]),
        dotSeries("Type 1 prolif.", purpleCells, 0, 7.5, C[4]),
        dotSeries("Unclassified 1", plumCells, 0, 7.5, C[1]),
        regionSeries(regs(tableA,1), 1, 5, .66),
        cellSeries(rasterCountsA, 270, 330, 1, 9.5),
        regionSeries(regs(darkA,1), 1, 4, .66, 4),
        outlierSeries(outliersA, 2, 1, 5.5),
        regionSeries(regs(tableA,2), 2, 5, .66),
        cellSeries(rasterGenesA, 270, 330, 2, 9.5),
        regionSeries(regs(darkA,2), 2, 4, .66, 4),
        outlierSeries(outliersA, 3, 2, 5.5),
        regionSeries(regs(tableB,1), 3, 5, 1),
        cellSeries(rasterCountsB, 88, 130, 3, 10.5),
        regionSeries(regs(darkB,1), 3, 4, 1, 4),
        regionSeries(holes, 3, 2, 1, 4),
        outlierSeries(outliersB, 2, 3, 5.5),
        regionSeries(regs(tableB,2), 4, 5, 1),
        cellSeries(rasterGenesB, 88, 130, 4, 10.5),
        regionSeries(regs(darkB,2), 4, 4, 1, 4),
        regionSeries(holes, 4, 2, 1, 4),
        outlierSeries(outliersB, 3, 4, 5.5),
        { type: "scatter", name: "dots", xAxisIndex: 5, yAxisIndex: 5, data: dotData, silent: true,
          symbolSize: (v: number[]) => dotDiameter(v[2]),
          itemStyle: { opacity: 1, color: (p: any) => zColor(p.data[3]) } },
        { type: "custom", coordinateSystem: "cartesian2d", xAxisIndex: 6, yAxisIndex: 6, silent: true, clip: false,
          data: violinItems, encode: { x: 0, y: 1 },
          renderItem: (p: any, api: any) => {
            const i = p.dataIndex, prof = violinProfiles[i];
            const pts = [...prof.map((q) => api.coord([i-q[1], q[0]])), ...[...prof].reverse().map((q) => api.coord([i+q[1], q[0]]))];
            const stroke = { stroke: "#3a3a3a", lineWidth: 1.5 };
            return { type: "group", children: [
              { type: "polygon", shape: { points: pts }, style: { fill: "#afd0c2", ...stroke } },
              ...violinQuartiles[i].map((q) => {
                const a = api.coord([i-q[1], q[0]]), b = api.coord([i+q[1], q[0]]);
                return { type: "line", shape: { x1: a[0], y1: a[1], x2: b[0], y2: b[1] }, style: stroke };
              }),
            ] };
          } },
        { type: "scatter", name: "mean", xAxisIndex: 6, yAxisIndex: 6, symbol: "diamond", symbolSize: 20, silent: true, z: 5,
          data: violinMeans.map((m,i) => [i,m]), itemStyle: { color: "#ffffff", borderColor: "#222", borderWidth: 2, opacity: 1 } },
      ],
      graphic: { elements: graphicEls },
    });
    return () => chart.dispose();
  }, []);
  return <div ref={ref} style={{ position: "absolute", left: 0, top: 0, width: 1668, height: 1800 }} />;
}
